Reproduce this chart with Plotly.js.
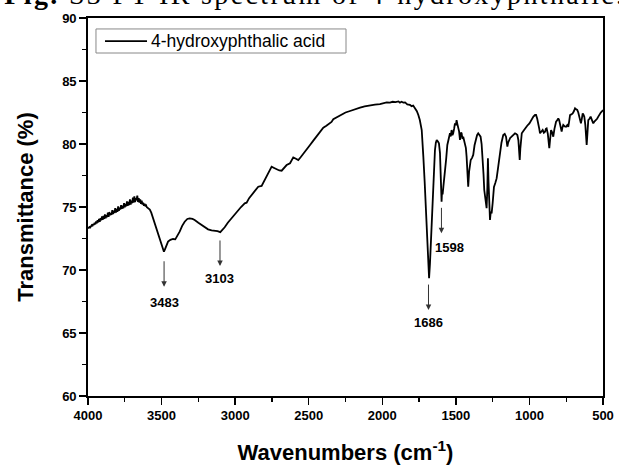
<!DOCTYPE html>
<html>
<head>
<meta charset="utf-8">
<script src="https://cdn.plot.ly/plotly-3.0.1.min.js"></script>
<style>
html,body{margin:0;padding:0;background:#fff;}
#chart{width:619px;height:469px;}
g.annotation[data-index="9"] text{letter-spacing:2.35px;}
</style>
</head>
<body>
<div id="chart"></div>
<script>
// Wavenumbers (cm-1)
const wavenumbers = [4000,3995,3990,3985,3980,3975,3970,3965,3960,3955,3950,3945,3940,3935,3930,3925,3920,3915,3910,3905,3900,3895,3890,3885,3880,3875,3870,3865,3860,3855,3850,3845,3840,3835,3830,3825,3820,3815,3810,3805,3800,3795,3790,3785,3780,3775,3770,3765,3760,3755,3750,3745,3740,3735,3730,3725,3720,3715,3710,3705,3700,3695,3690,3685,3680,3675,3670,3665,3660,3655,3650,3645,3640,3635,3630,3625,3620,3615,3610,3605,3600,3590,3580,3570,3560,3547,3530,3513,3495,3484,3475,3456,3440,3422,3407,3390,3377,3360,3343,3325,3309,3290,3275,3250,3230,3205,3184,3160,3139,3120,3101,3085,3071,3050,3026,3000,2981,2960,2935,2922,2905,2888,2865,2843,2820,2800,2786,2770,2752,2735,2715,2700,2684,2665,2650,2627,2605,2590,2571,2555,2537,2515,2491,2470,2446,2425,2401,2380,2365,2345,2333,2310,2287,2250,2219,2185,2151,2120,2084,2050,2016,1990,1970,1948,1930,1910,1890,1880,1870,1857,1845,1830,1812,1800,1790,1778,1765,1755,1745,1732,1725,1721,1712,1703,1695,1687,1682,1676,1670,1664,1658,1653,1648,1642,1636,1630,1622,1615,1608,1603,1600,1597,1594,1590,1585,1580,1574,1566,1558,1550,1540,1535,1529,1523,1518,1512,1506,1500,1495,1490,1484,1478,1472,1466,1461,1455,1450,1440,1432,1427,1422,1416,1410,1405,1399,1390,1382,1373,1364,1356,1348,1340,1332,1325,1318,1312,1307,1300,1295,1291,1286,1282,1278,1273,1268,1263,1257,1250,1241,1232,1223,1212,1200,1190,1178,1168,1159,1155,1150,1145,1139,1130,1121,1110,1098,1090,1082,1075,1070,1066,1062,1058,1052,1040,1030,1015,1000,985,973,962,955,947,939,933,928,920,910,902,894,888,883,875,870,865,860,853,845,838,830,819,810,804,798,792,786,781,776,770,760,751,743,736,730,724,715,706,698,690,682,675,668,661,655,650,644,638,632,627,620,615,611,606,600,592,584,575,566,557,548,540,532,521,515,509,500];
// Transmittance (%)
const transmittance = [73.30,73.35,73.42,73.38,73.50,73.55,73.48,73.65,73.58,73.75,73.62,73.85,73.70,73.95,73.78,74.05,73.82,74.12,73.95,74.25,73.98,74.30,74.05,74.42,74.10,74.35,74.20,74.55,74.22,74.60,74.35,74.50,74.38,74.75,74.45,74.70,74.52,74.90,74.55,74.85,74.62,75.05,74.70,74.95,74.80,75.15,74.85,75.10,74.90,75.30,74.98,75.25,75.05,75.45,75.10,75.40,75.15,75.60,75.20,75.50,75.30,75.75,75.35,75.85,75.40,75.70,75.55,75.90,75.40,75.70,75.35,75.60,75.25,75.50,75.20,75.35,75.10,75.25,75.05,75.12,74.98,74.92,74.80,74.55,74.20,73.70,73.00,72.40,71.80,71.45,71.70,72.25,72.40,72.46,72.43,72.75,73.04,73.50,73.83,74.05,74.10,74.05,73.97,73.75,73.57,73.40,73.23,73.15,73.12,73.08,73.00,73.20,73.39,73.75,74.10,74.50,74.76,75.00,75.29,75.34,75.70,75.95,76.30,76.61,76.67,77.10,77.41,77.80,78.20,78.10,77.95,77.90,77.88,78.15,78.33,78.47,78.94,78.85,78.73,78.95,79.20,79.55,79.92,80.25,80.63,80.95,81.30,81.45,81.60,81.75,81.96,82.10,82.30,82.50,82.62,82.78,82.88,82.98,83.07,83.12,83.17,83.22,83.30,83.28,83.35,83.32,83.38,83.28,83.35,83.28,83.30,83.15,83.10,83.00,83.05,82.83,82.60,82.30,81.90,81.11,80.00,79.00,77.00,75.02,72.80,70.53,69.34,70.50,72.30,73.70,75.80,77.67,78.80,79.52,80.10,80.32,80.20,80.05,79.30,78.20,76.50,75.42,76.30,76.00,76.60,77.10,77.67,78.80,79.92,80.50,80.85,80.60,81.11,80.70,80.85,81.20,81.64,81.50,81.90,81.60,81.37,81.00,80.32,80.90,80.85,80.40,80.58,80.10,79.70,79.00,78.00,76.61,77.80,78.40,78.73,78.90,79.13,79.90,80.45,80.70,80.85,80.75,80.58,80.00,79.00,77.60,76.35,75.60,75.10,74.90,76.50,78.86,77.00,74.80,73.97,74.60,74.50,75.30,76.60,76.90,77.27,78.20,79.26,80.10,80.71,80.80,80.58,80.20,79.79,80.10,80.32,80.50,80.58,80.75,80.85,80.80,80.71,80.30,79.30,78.73,79.60,80.50,80.85,81.05,81.24,81.45,81.64,81.95,82.17,82.30,82.30,82.00,81.64,81.20,80.85,81.00,81.11,80.90,80.98,81.20,81.24,80.80,80.20,79.66,80.30,81.11,80.90,80.58,81.20,81.77,81.90,82.04,81.90,81.64,81.30,80.98,81.30,81.51,81.40,81.37,81.50,81.37,81.80,82.30,82.35,82.43,82.60,82.83,82.75,82.70,82.50,82.17,81.90,81.64,82.00,82.43,82.30,82.17,81.50,80.60,79.92,80.80,81.90,82.00,82.17,81.90,81.64,81.80,81.90,82.00,82.17,82.43,82.50,82.56,82.70];

const seriesName = "4-hydroxyphthalic acid";
// Peak labels: wavenumber, arrow tip (%), label position (%)
const peakLabels = ["3483","3103","1686","1598"];
const peakX      = [3483, 3103, 1686, 1598];
const arrowTipY  = [68.67, 70.32, 66.82, 72.91];
const labelX     = [3483, 3103, 1686, 1543];
const labelY     = [67.46, 69.32, 65.87, 71.77];
const captionText = "<b>Fig.</b> S3 FT-IR spectrum of 4-hydroxyphthalic.";

const sans = "Liberation Sans, Arial, sans-serif";
const tickFont = {family: sans, size: 13, color: "#000", weight: "bold"};
const annotations = [];
for (let i = 0; i < peakLabels.length; i++) {
  annotations.push({x: peakX[i], y: arrowTipY[i], xref: "x", yref: "y", text: "",
    showarrow: true, ax: 0, ay: -27, arrowhead: 2, arrowsize: 1.1, arrowwidth: 1, arrowcolor: "#333"});
  annotations.push({x: labelX[i], y: labelY[i], xref: "x", yref: "y", text: peakLabels[i],
    showarrow: false, font: tickFont, xanchor: "center", yanchor: "middle"});
}
// legend text (custom legend box drawn with shapes below)
annotations.push({xref: "paper", yref: "paper", x: 0.1184, y: 0.939, xanchor: "left", yanchor: "middle",
  showarrow: false, text: seriesName, font: {family: sans, size: 17.5, color: "#000"}});
// clipped figure caption at the top
annotations.push({xref: "paper", yref: "paper", x: -0.066, y: 1.0614, xanchor: "left", yanchor: "middle",
  showarrow: false, text: captionText,
  font: {family: "Liberation Serif, Times New Roman, serif", size: 28, color: "#000"}});

const shapes = [
  {type: "rect", xref: "paper", yref: "paper", x0: 0.0155, x1: 0.501, y0: 0.9074, y1: 0.971,
    line: {color: "#888", width: 1}, fillcolor: "#fff", layer: "above"},
  {type: "line", xref: "paper", yref: "paper", x0: 0.033, x1: 0.1146, y0: 0.939, y1: 0.939,
    line: {color: "#000", width: 1.8}, layer: "above"}
];

const trace = {x: wavenumbers, y: transmittance, type: "scatter", mode: "lines", name: seriesName,
  line: {color: "#000", width: 1.8}, showlegend: false};

const layout = {
  width: 619, height: 469,
  margin: {l: 88, r: 16, t: 18, b: 73},
  paper_bgcolor: "#fff", plot_bgcolor: "#fff",
  showlegend: false,
  xaxis: {range: [4000, 500], tick0: 500, dtick: 500, ticks: "outside", ticklen: 7, tickwidth: 1.5,
    tickcolor: "#000", showline: true, linecolor: "#000", linewidth: 1.8, mirror: true, showgrid: false,
    zeroline: false, tickfont: tickFont,
    minor: {dtick: 250, ticklen: 4, tickwidth: 1.2, tickcolor: "#000", ticks: "outside", showgrid: false},
    title: {text: "<b>Wavenumbers (cm<sup>-1</sup>)</b>", standoff: 22,
      font: {family: sans, size: 22, color: "#000"}}},
  yaxis: {range: [60, 90], dtick: 5, ticks: "outside", ticklen: 7, tickwidth: 1.5, tickcolor: "#000",
    showline: true, linecolor: "#000", linewidth: 1.8, mirror: true, showgrid: false, zeroline: false,
    tickfont: tickFont,
    minor: {dtick: 2.5, ticklen: 4, tickwidth: 1.2, tickcolor: "#000", ticks: "outside", showgrid: false},
    title: {text: "<b>Transmittance (%)</b>", standoff: 22,
      font: {family: sans, size: 22, color: "#000"}}},
  shapes: shapes,
  annotations: annotations
};
Plotly.newPlot("chart", [trace], layout, {displayModeBar: false, staticPlot: true});
</script>
</body>
</html>
